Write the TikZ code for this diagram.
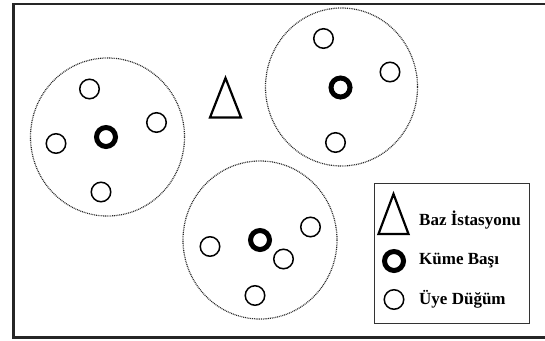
\documentclass[tikz,border=0pt]{standalone}
\usepackage{fontspec}
\setmainfont{Liberation Serif}
\begin{document}
\begin{tikzpicture}[x=1pt,y=-1pt,
  member/.style={circle,draw=black,line width=1.5pt,minimum size=19.5pt,inner sep=0pt},
  head/.style={circle,draw=black,line width=5pt,minimum size=19pt,inner sep=0pt},
  cluster/.style={draw=black!85,line width=1.2pt,dash pattern=on 0.9pt off 0.9pt},
  bs/.style={draw=black,line width=2.2pt,line join=miter},
  lbl/.style={anchor=west,inner sep=0pt,font=\fontsize{17}{20}\selectfont\bfseries}]
\useasboundingbox (0,0) rectangle (545,340);
\begin{scope}
\clip (0,0) rectangle (545,340);
\draw[line width=2.2pt,draw=black!85] (13.5,4.3) rectangle (570,337.5);
\end{scope}
% clusters
\draw[cluster] (107.5,137) ellipse (77 and 79);
\draw[cluster] (341.5,87) ellipse (76 and 79);
\draw[cluster] (260,240) ellipse (77 and 79);
% base station
\draw[bs] (225.5,78) -- (241,117.5) -- (210,117.5) -- cycle;
% cluster 1
\node[head] (h1) at (106,137) {};
\node[member] (m11) at (89.5,89) {};
\node[member] (m12) at (156.5,122.5) {};
\node[member] (m13) at (56,143.5) {};
\node[member] (m14) at (101,192) {};
% cluster 2
\node[head] (h2) at (340.5,87.5) {};
\node[member] (m21) at (323.5,38.5) {};
\node[member] (m22) at (390,72) {};
\node[member] (m23) at (335.5,142.5) {};
% cluster 3
\node[head] (h3) at (260,240) {};
\node[member] (m31) at (310.5,227) {};
\node[member] (m32) at (210,246.5) {};
\node[member] (m33) at (283.5,259) {};
\node[member] (m34) at (255,295.5) {};
% legend
\draw[line width=1pt,draw=black!80] (374,183.5) rectangle (529.5,323);
\draw[bs] (393.5,194) -- (408.5,234) -- (378.5,234) -- cycle;
\node[lbl] (t1) at (419,220.5) {Baz İstasyonu};
\node[head] (lh) at (394,261) {};
\node[lbl] (t2) at (419,261) {Küme Başı};
\node[member] (lm) at (394,299.5) {};
\node[lbl] (t3) at (419,299.5) {Üye Düğüm};
\end{tikzpicture}
\end{document}
